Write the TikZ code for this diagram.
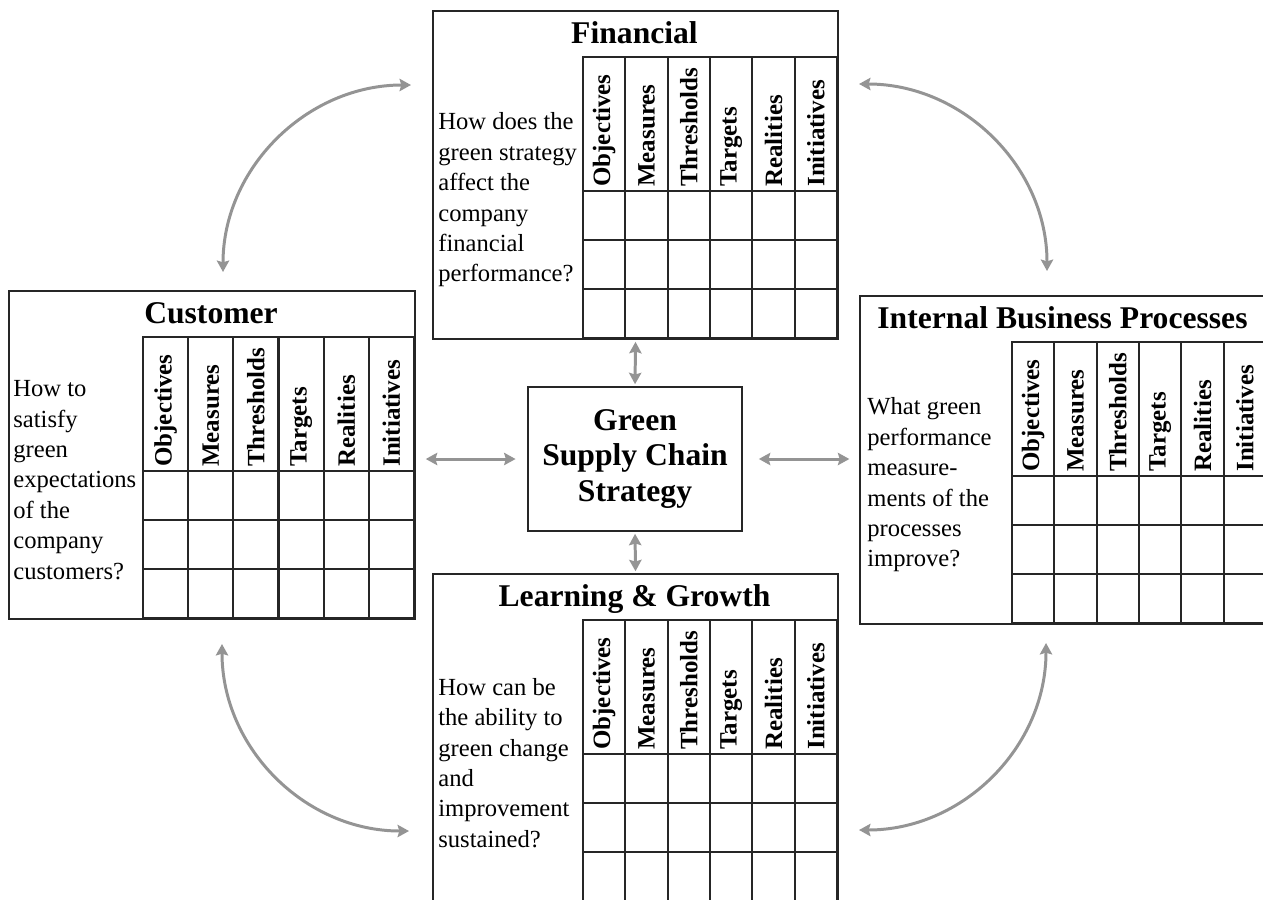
\documentclass[tikz,border=0pt]{standalone}
\usepackage{fontspec}
\setmainfont{Liberation Serif}
\usetikzlibrary{arrows.meta}

\tikzset{
  panel/.style={draw=black!85, line width=1.2pt},
  link/.style={draw=black!42, line width=1.7pt,
    {Stealth[length=6.5pt,width=7pt,inset=1pt]}-{Stealth[length=6.5pt,width=7pt,inset=1pt]}},
  head/.style={anchor=base, inner sep=0pt, font=\fontsize{18}{21}\selectfont\bfseries},
  colhead/.style={rotate=90, anchor=west, inner sep=0pt, font=\fontsize{14.2}{16}\selectfont\bfseries},
  question/.style={anchor=west, align=left, inner sep=0pt, font=\fontsize{14}{17.3}\selectfont},
}

\begin{document}
\begin{tikzpicture}[x=0.02cm, y=-0.02cm]
\useasboundingbox (0,0) rectangle (1263,899);
\fill[white] (0,0) rectangle (1263,899);

% perspectives: name/left/top/grid left/column width/text indent/title/question
\foreach \name/\lx/\ty/\gx/\cw/\qx/\ttl/\qtext in {
  fin/432/10/583/42.33/6/Financial/{How does the\\green strategy\\affect the\\company\\financial\\performance?},
  cus/8/290/143/45.17/5/Customer/{How to\\satisfy\\green\\expectations\\of the\\company\\customers?},
  ibp/859/295/1012/42.33/8/Internal Business Processes/{What green\\performance\\measure-\\ments of the\\processes\\improve?},
  lg/432/573/583/42.33/6/Learning \& Growth/{How can be\\the ability to\\green change\\and\\improvement\\sustained?}}
{
  \pgfmathsetmacro{\rx}{\gx+6*\cw}
  \node[panel, anchor=north west, inner sep=0pt,
        minimum width={(\rx-\lx)*0.02cm}, minimum height={328*0.02cm}] (\name) at (\lx,\ty) {};
  \node[head] (\name-title) at ({(\lx+\rx)/2},\ty+33) {\ttl};
  \node[question] (\name-q) at (\lx+\qx,\ty+190) {\qtext};
  % grid of six columns, header row and three empty rows
  \draw[panel] (\gx,\ty+47) rectangle (\rx,\ty+328);
  \foreach \i in {1,...,5}
    \draw[panel] (\gx+\i*\cw,\ty+47) -- (\gx+\i*\cw,\ty+328);
  \foreach \k in {181,230,279}
    \draw[panel] (\gx,\ty+\k) -- (\rx,\ty+\k);
  \foreach \c [count=\i] in {Objectives,Measures,Thresholds,Targets,Realities,Initiatives}
    \node[colhead] (\name-h\i) at (\gx+\i*\cw-0.5*\cw,\ty+177) {\c};
}

\node[panel, minimum width=4.28cm, minimum height=2.88cm, align=center,
      font=\fontsize{18}{20.4}\selectfont\bfseries] (gscs) at (635,459) {Green\\Supply Chain\\Strategy};

% straight links to the centre
\draw[link, shorten <=1pt, shorten >=1pt] (gscs.north) -- (fin.south);
\draw[link, shorten <=1pt, shorten >=1pt] (gscs.south) -- (lg.north);
\draw[link, shorten <=6.5pt, shorten >=5.5pt] (gscs.west) -- (gscs.west -| cus.east);
\draw[link, shorten <=9pt, shorten >=5.5pt] (gscs.east) -- (gscs.east -| ibp.west);

% curved links between neighbours
\coordinate (tlA) at (223,272);
\coordinate (tlB) at (411,85);
\coordinate (trA) at (859,84);
\coordinate (trB) at (1047,271);
\coordinate (blA) at (222,644);
\coordinate (blB) at (409,831);
\coordinate (brA) at (1046,643);
\coordinate (brB) at (859,830);
\draw[link] (tlA) .. controls +(0,-104) and +(-104,0) .. (tlB);
\draw[link] (trA) .. controls +(104,0) and +(0,-104) .. (trB);
\draw[link] (blA) .. controls +(0,104) and +(-104,0) .. (blB);
\draw[link] (brA) .. controls +(0,104) and +(104,0) .. (brB);
\end{tikzpicture}
\end{document}
